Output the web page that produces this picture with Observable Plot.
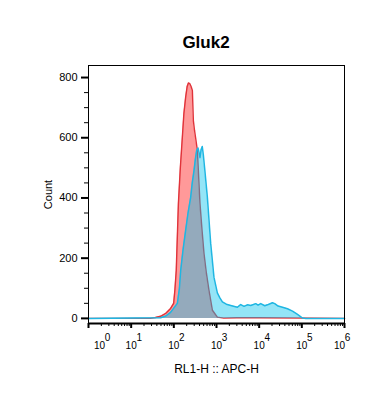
<!DOCTYPE html>
<html>
<head>
<meta charset="utf-8">
<script src="https://cdn.jsdelivr.net/npm/d3@7"></script>
<script src="https://cdn.jsdelivr.net/npm/@observablehq/plot@0.6"></script>
<style>
  html, body { margin: 0; padding: 0; background: #fff; }
  #wrap { position: relative; width: 365px; height: 393px; font-family: "Liberation Sans", Arial, sans-serif; color: #000; }
  #title { position: absolute; top: 33px; left: 0; width: 412px; text-align: center; font-weight: bold; font-size: 17px; line-height: 20px; }
  svg { position: absolute; left: 0; top: 0; }
</style>
</head>
<body>
<div id="wrap"><div id="title">Gluk2</div></div>
<script>
// Red sample (control)
const redX = [1, 28, 37, 49, 65, 84, 99, 106, 114, 128, 142, 158, 172, 189, 205, 220, 236, 254, 272, 287, 305, 324, 356, 410, 460, 509, 580, 667, 802, 1047, 1480, 3000, 10000, 100000, 1000000];
const redY = [0, 0, 3, 7, 17, 33, 50, 95, 160, 382, 500, 600, 680, 734, 770, 782, 780, 770, 757, 657, 625, 600, 558, 382, 290, 216, 150, 93, 27, 4, 1, 2, 2, 1, 0];
// Cyan sample (Gluk2 stained)
const cyanX = [1, 49, 65, 84, 121, 135, 145, 165, 189, 215, 248, 270, 297, 320, 343, 368, 385, 410, 435, 464, 490, 525, 611, 731, 873, 1047, 1200, 1374, 1700, 2155, 3090, 3700, 4425, 5310, 6350, 8320, 9420, 10900, 13530, 15670, 20500, 23200, 27800, 35200, 46100, 60500, 79300, 103800, 124000, 1000000];
const cyanY = [0, 2, 8, 20, 50, 100, 160, 230, 292, 350, 402, 450, 491, 530, 558, 566, 555, 534, 560, 571, 545, 502, 402, 249, 136, 85, 68, 55, 47, 43, 37, 46, 40, 45, 43, 49, 44, 49, 42, 45, 52, 49, 41, 37, 32, 24, 13, 1, 0, 0];

const yMajor = [0, 200, 400, 600, 800];
const yMinor = [50, 100, 150, 250, 300, 350, 450, 500, 550, 650, 700, 750];
const xExponents = [0, 1, 2, 3, 4, 5, 6];
const yDomain = [-17, 840];
const xDomain = [1, 1000000];

const red = redX.map((x, i) => ({x, y: redY[i]}));
const cyan = cyanX.map((x, i) => ({x, y: cyanY[i]}));
const xMajor = xExponents.map(e => 10 ** e);
const xMinor = [];
for (const e of xExponents.slice(0, -1)) for (let k = 2; k <= 9; k++) xMinor.push(k * 10 ** e);

const font = "Liberation Sans, Arial, sans-serif";

const chart = Plot.plot({
  width: 365,
  height: 393,
  marginTop: 65,
  marginBottom: 70,
  marginLeft: 88,
  marginRight: 21,
  style: {fontFamily: font, color: "#000", background: "transparent"},
  x: {type: "log", domain: xDomain},
  y: {domain: yDomain},
  marks: [
    Plot.areaY(red, {x: "x", y: "y", fill: "#ff0000", fillOpacity: 0.4}),
    Plot.lineY(red, {x: "x", y: "y", stroke: "#e0333a", strokeWidth: 1.4}),
    Plot.areaY(cyan, {x: "x", y: "y", fill: "#00c0ec", fillOpacity: 0.42}),
    Plot.lineY(cyan, {x: "x", y: "y", stroke: "#1fb6e2", strokeWidth: 1.5}),
    Plot.frame({stroke: "#000", strokeWidth: 1}),
    Plot.ruleY([yDomain[0]], {stroke: "#000", strokeWidth: 2}),
    Plot.axisY({ticks: yMajor, tickSize: 7, strokeWidth: 2, tickPadding: 4, fontSize: 11,
      label: "Count", labelAnchor: "center", labelOffset: 44, labelArrow: "none"}),
    Plot.axisY({ticks: yMinor, tickSize: 4, strokeWidth: 1, tickFormat: () => "", label: null}),
    Plot.axisX({ticks: xMajor, tickSize: 5, strokeWidth: 2, tickFormat: () => "",
      label: "RL1-H :: APC-H", labelAnchor: "center", labelOffset: 49, labelArrow: "none", fontSize: 12}),
    Plot.axisX({ticks: xMinor, tickSize: 3, strokeWidth: 1, tickFormat: () => "", label: null}),
    // tick labels: "10" with superscript exponent
    Plot.text(xExponents.filter(e => e === 0), {x: e => 10 ** e, text: () => "10", frameAnchor: "bottom", dy: 25, dx: 11, fontSize: 10, fill: "#000"}),
    Plot.text(xExponents.filter(e => e === 0), {x: e => 10 ** e, text: e => String(e), frameAnchor: "bottom", dy: 17, dx: 19, fontSize: 10, fill: "#000"}),
    Plot.text(xExponents.filter(e => e > 0 && e < 6), {x: e => 10 ** e, text: () => "10", frameAnchor: "bottom", dy: 25, dx: 0, fontSize: 10, fill: "#000"}),
    Plot.text(xExponents.filter(e => e > 0 && e < 6), {x: e => 10 ** e, text: e => String(e), frameAnchor: "bottom", dy: 17, dx: 8, fontSize: 10, fill: "#000"}),
    Plot.text(xExponents.filter(e => e === 6), {x: e => 10 ** e, text: () => "10", frameAnchor: "bottom", dy: 25, dx: -5, fontSize: 10, fill: "#000"}),
    Plot.text(xExponents.filter(e => e === 6), {x: e => 10 ** e, text: e => String(e), frameAnchor: "bottom", dy: 17, dx: 3, fontSize: 10, fill: "#000"})
  ]
});
document.getElementById("wrap").appendChild(chart);
</script>
</body>
</html>
